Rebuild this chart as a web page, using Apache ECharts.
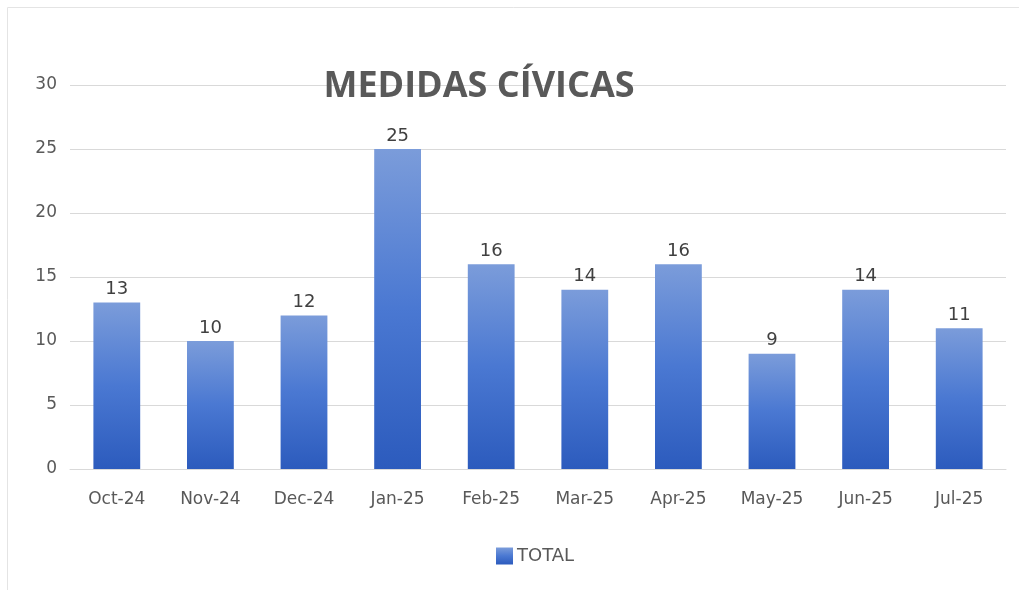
<!DOCTYPE html>
<html>
<head>
<meta charset="utf-8">
<script src="https://cdn.jsdelivr.net/npm/echarts@6/dist/echarts.min.js"></script>
<style>
  html, body { margin: 0; padding: 0; background: #fff; }
  #chart { width: 1019px; height: 590px; }
</style>
</head>
<body>
<div id="chart"></div>
<script>
const months = ["Oct-24", "Nov-24", "Dec-24", "Jan-25", "Feb-25", "Mar-25", "Apr-25", "May-25", "Jun-25", "Jul-25"]
const totals = [13, 10, 12, 25, 16, 14, 16, 9, 14, 11]
const yTicks = [0, 5, 10, 15, 20, 25, 30]

const titleFont = "'Open Sans', 'Liberation Sans', sans-serif"
const font = "'DejaVu Sans', sans-serif"

// degradado de cada barra: claro arriba, oscuro abajo
const barColor = new echarts.graphic.LinearGradient(0, 0, 0, 1, [
  { offset: 0, color: "#7b9cda" },
  { offset: 0.5, color: "#4a78d2" },
  { offset: 1, color: "#2c5bbd" }
])

const chart = echarts.init(document.getElementById("chart"))
chart.setOption({
  animation: false,
  title: {
    text: "MEDIDAS CÍVICAS",
    left: 474,
    top: 64,
    textAlign: "center",
    textStyle: { fontFamily: titleFont, fontSize: 36, fontWeight: "bold", color: "#595959" }
  },
  graphic: [{
    type: "rect",
    shape: { x: 7.5, y: 7.5, width: 1030, height: 600 },
    style: { fill: "none", stroke: "#e4e4e4", lineWidth: 1 },
    silent: true,
    z: -1
  }],
  grid: { left: 70, right: 13, top: 85, bottom: 121 },
  legend: {
    bottom: 20,
    left: 491,
    itemWidth: 17,
    itemHeight: 17,
    itemGap: 4,
    icon: "rect",
    textStyle: { fontFamily: font, fontSize: 18, color: "#595959", padding: [0, 0, 0, -1] },
    data: ["TOTAL"]
  },
  xAxis: {
    type: "category",
    data: months,
    axisLine: { lineStyle: { color: "#d9d9d9", width: 1 } },
    axisTick: { show: false },
    axisLabel: { fontFamily: font, fontSize: 17, color: "#595959", margin: 22 }
  },
  yAxis: {
    type: "value",
    min: yTicks[0],
    max: yTicks[yTicks.length - 1],
    interval: 5,
    axisLine: { show: false },
    axisTick: { show: false },
    splitLine: { lineStyle: { color: "#d9d9d9", width: 1 } },
    axisLabel: { fontFamily: font, fontSize: 17, color: "#595959", margin: 13 }
  },
  series: [{
    name: "TOTAL",
    type: "bar",
    data: totals,
    barWidth: "50%",
    itemStyle: { color: barColor },
    label: {
      show: true,
      position: "top",
      distance: 4,
      fontFamily: font,
      fontSize: 18,
      color: "#404040"
    }
  }]
})
</script>
</body>
</html>
